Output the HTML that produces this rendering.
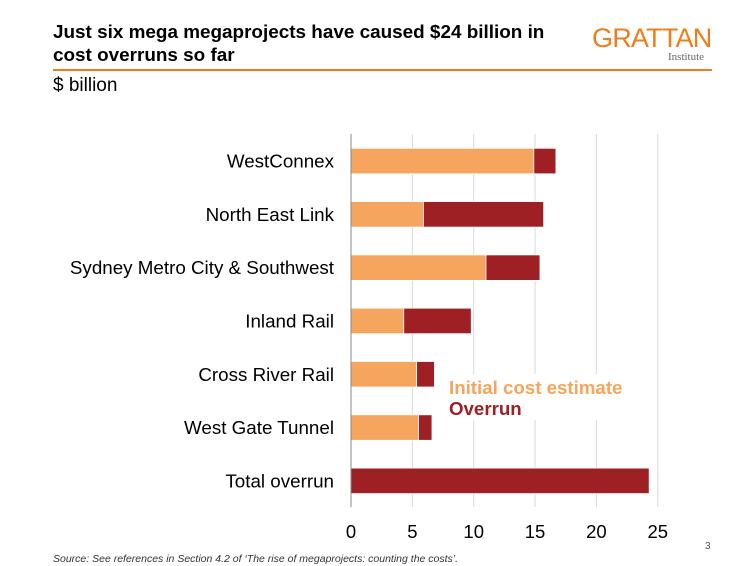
<!DOCTYPE html>
<html><head><meta charset="utf-8"><style>
body{margin:0;background:#fff;}
#root{position:relative;width:754px;height:566px;overflow:hidden;font-family:"Liberation Sans",sans-serif;}
.t{position:absolute;white-space:nowrap;}
</style></head><body>
<div id="root">
<div class="t" style="left:53px;top:21px;font-size:18.9px;font-weight:bold;line-height:23px;color:#000;">Just six mega megaprojects have caused $24 billion in<br>cost overruns so far</div>
<div class="t" style="left:592px;top:23px;font-size:27px;color:#f07d1a;letter-spacing:-0.8px;">GRATTAN</div>
<div class="t" style="left:668px;top:51px;font-size:11px;font-family:'Liberation Serif',serif;color:#666;">Institute</div>
<div style="position:absolute;left:53px;top:69px;width:659px;height:2px;background:#f07d1a;"></div>
<div class="t" style="left:53px;top:75px;font-size:19px;color:#000;">$ billion</div>
<svg id="chart" width="754" height="566" style="position:absolute;left:0;top:0;"></svg>
<div class="t" style="left:705px;top:541px;font-size:10px;color:#555;">3</div>
<div class="t" style="left:53px;top:553px;font-size:10.5px;font-style:italic;color:#333;">Source: See references in Section 4.2 of ‘The rise of megaprojects: counting the costs’.</div>
</div>
<script>
const categories=["WestConnex","North East Link","Sydney Metro City & Southwest","Inland Rail","Cross River Rail","West Gate Tunnel","Total overrun"];
const initialCost=[14.9,5.9,11.0,4.3,5.35,5.5,0];
const totalCost=[16.7,15.7,15.4,9.8,6.8,6.6,24.3];
const ticks=[0,5,10,15,20,25];
const svg=document.getElementById('chart');
const NS='http://www.w3.org/2000/svg';
const x0=351,pxPer=12.27;
const xs=v=>x0+v*pxPer;
const yTop=148.3,step=53.3,bh=25.5;
const ys=i=>yTop+i*step;
function mk(tag,attrs){const e=document.createElementNS(NS,tag);for(const k in attrs)e.setAttribute(k,attrs[k]);svg.appendChild(e);return e;}
ticks.forEach((t,i)=>{
  if(t>0){const g=mk('line',{x1:xs(t),x2:xs(t),y1:134,y2:507,stroke:'#d9d9d9','stroke-width':1});
  
  }
  const l=mk('text',{x:xs(t),y:538,'text-anchor':'middle','font-size':18.5,'font-family':'Liberation Sans, sans-serif',fill:'#000'});
  l.textContent=t;
  
  
});
const lb=mk('rect',{x:446,y:374,width:185,height:46,fill:'#fff'});


categories.forEach((c,i)=>{
  const y=ys(i);
  if(initialCost[i]>0){const r=mk('rect',{x:xs(0),y:y,width:xs(initialCost[i])-xs(0),height:bh,fill:'#f5a55e',stroke:'#fff','stroke-width':0.8});
  
  }
  const r2=mk('rect',{x:xs(initialCost[i]),y:y,width:xs(totalCost[i])-xs(initialCost[i]),height:bh,fill:'#9e1f24',stroke:'#fff','stroke-width':0.8});
  
  
  const t=mk('text',{x:334,y:y+bh/2+6.5,'text-anchor':'end','font-size':18.8,'font-family':'Liberation Sans, sans-serif',fill:'#000'});
  t.textContent=c;
  
  
});
const ax=mk('line',{x1:x0,x2:x0,y1:134,y2:507,stroke:'#888','stroke-width':1});


const l1=mk('text',{x:449,y:394,'font-size':18.7,'font-weight':'bold','font-family':'Liberation Sans, sans-serif',fill:'#f5a55e'});
l1.textContent='Initial cost estimate';


const l2=mk('text',{x:449,y:415,'font-size':18.7,'font-weight':'bold','font-family':'Liberation Sans, sans-serif',fill:'#9e1f24'});
l2.textContent='Overrun';


</script>
</body></html>
